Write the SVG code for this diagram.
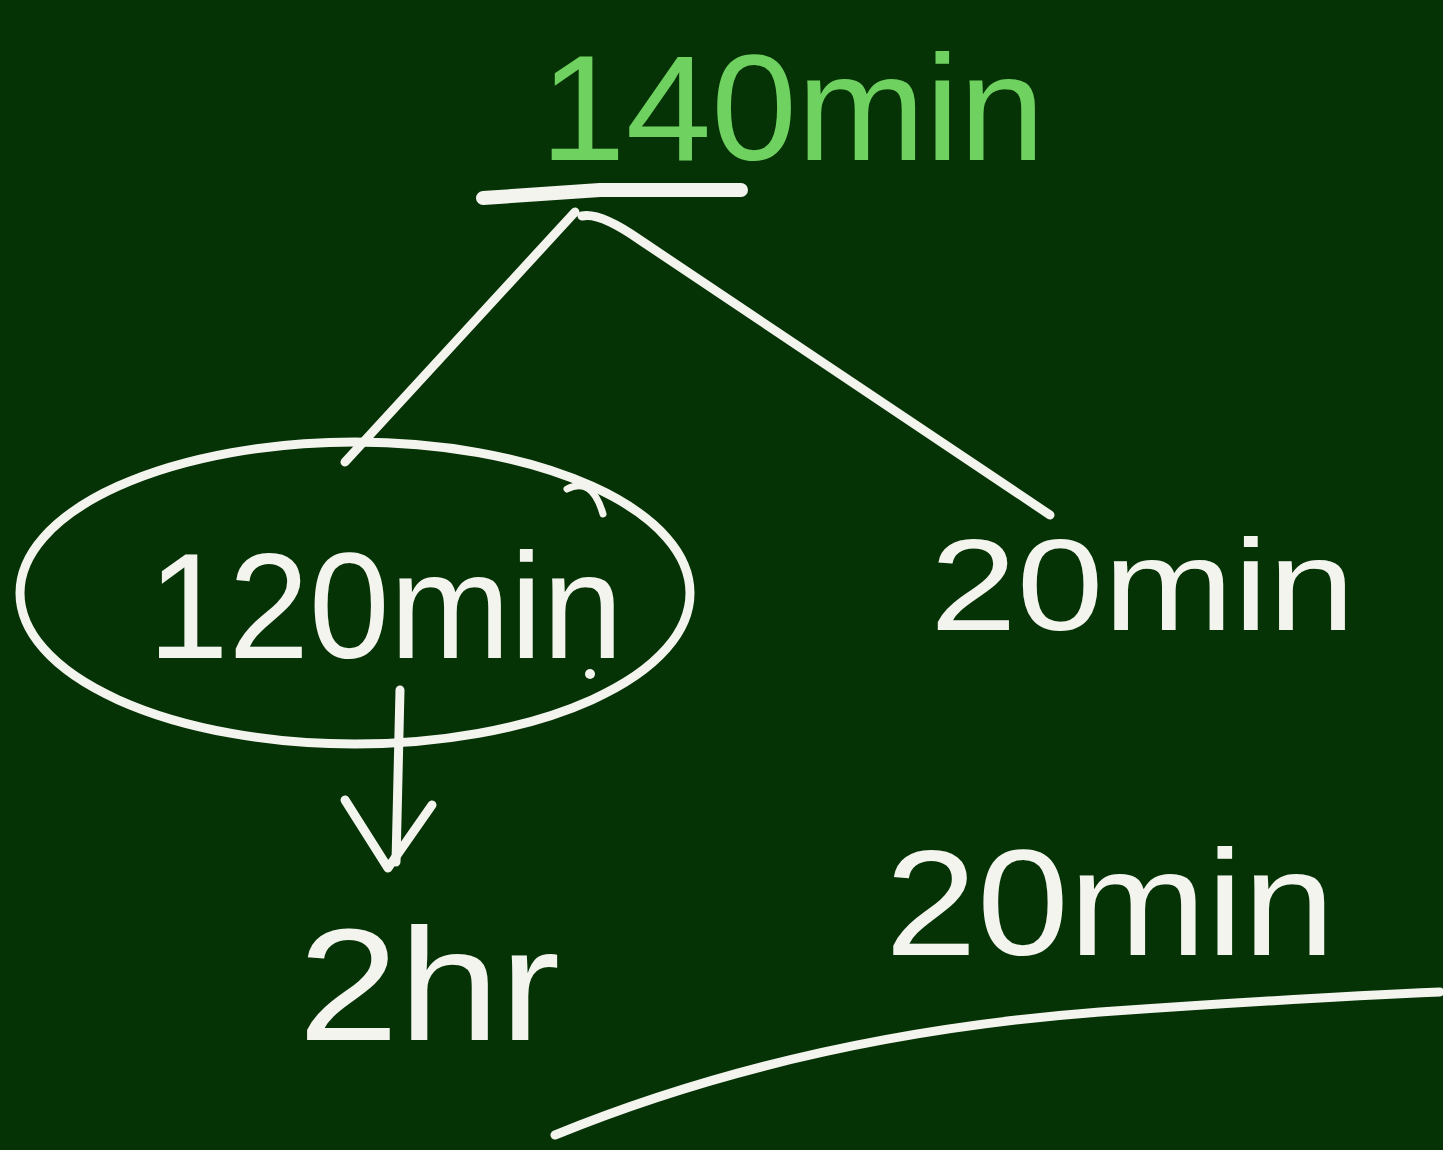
<svg xmlns="http://www.w3.org/2000/svg" width="1443" height="1150" viewBox="0 0 1443 1150">
<style>
.bg{fill:#053305}
.ln{fill:none;stroke:#f4f4ee;stroke-width:9;stroke-linecap:round;stroke-linejoin:round}
.t{font-family:"Liberation Sans","DejaVu Sans",sans-serif;fill:#f4f4ee}
.g{fill:#6fd160}
</style>
<rect class="bg" x="0" y="0" width="1443" height="1150"/>
<g id="root">
<text class="t g" x="540" y="160" font-size="150" textLength="505" lengthAdjust="spacingAndGlyphs">140min</text>
<path class="ln" d="M483,198 L600,190 L741,190" style="stroke-width:14"/>
</g>
<g id="node120">
<ellipse class="ln" cx="355" cy="593" rx="335" ry="151"/>
<text class="t" x="148" y="658" font-size="150" textLength="475" lengthAdjust="spacingAndGlyphs">120min</text>
<path class="ln" d="M567,489 Q592,476 603,514" style="stroke-width:7"/>
<circle cx="590" cy="674" r="5" fill="#f4f4ee"/>
</g>
<g id="node20a">
<text class="t" x="930" y="630" font-size="130" textLength="425" lengthAdjust="spacingAndGlyphs">20min</text>
</g>
<g id="node2hr">
<text class="t" x="298" y="1040" font-size="160" textLength="262" lengthAdjust="spacingAndGlyphs">2hr</text>
</g>
<g id="node20b">
<text class="t" x="885" y="955" font-size="150" textLength="450" lengthAdjust="spacingAndGlyphs">20min</text>
</g>
<g id="connectors">
<path class="ln" d="M575,212 L345,462"/>
<path class="ln" d="M582,216 Q600,212 640,240 L1050,515"/>
<path class="ln" d="M400,690 L396,862"/>
<path class="ln" d="M345,800 L388,868 L432,805"/>
<path class="ln" d="M555,1135 Q800,1035 1100,1012 Q1300,998 1440,992"/>
</g>
</svg>
